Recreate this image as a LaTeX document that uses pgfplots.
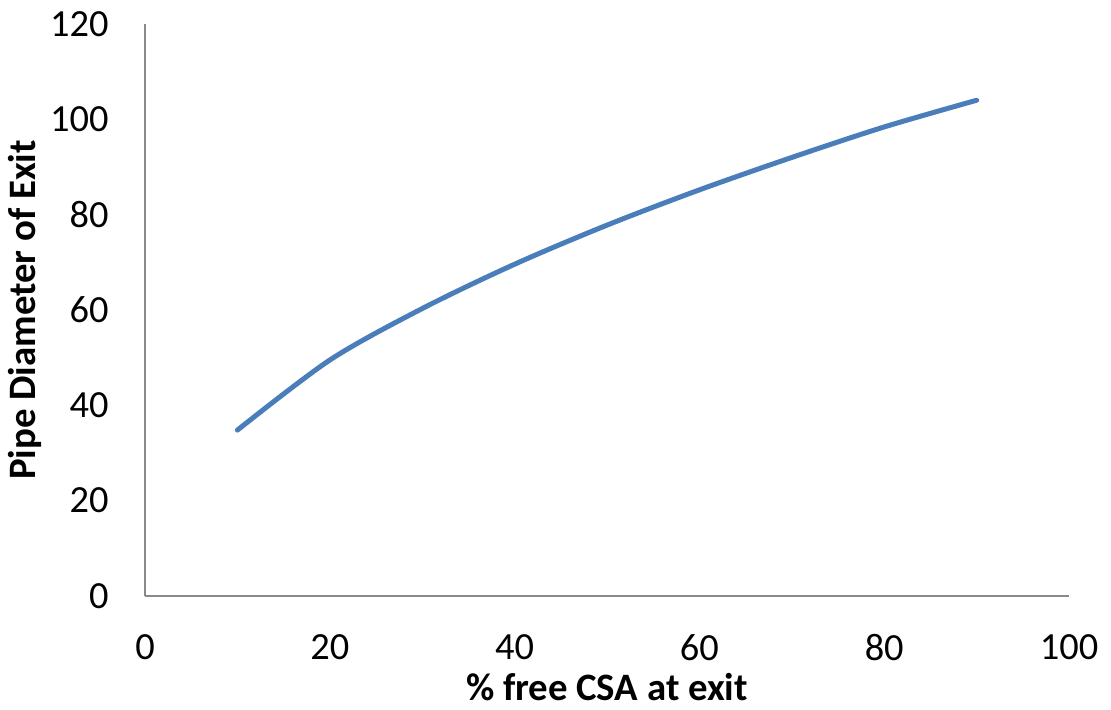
\documentclass[border=0pt]{standalone}
\usepackage{pgfplots}
\pgfplotsset{compat=1.18}
\usepackage{fontspec}
\setmainfont{Carlito}
\definecolor{linecol}{HTML}{4A7EBB}
\definecolor{axcol}{HTML}{898989}
\begin{document}
\begin{tikzpicture}
\path[use as bounding box] (-72.5pt,-57pt) rectangle (483pt,298pt);
\begin{axis}[
  at={(0,0)}, anchor=south west,
  scale only axis,
  width=462pt, height=286pt,
  xmin=0, xmax=100, ymin=0, ymax=120,
  xtick={0,20,...,100}, ytick={0,20,...,120},
  axis x line*=bottom, axis y line*=left,
  axis line style={draw=axcol, line width=0.6pt, -},
  major tick length=0pt,
  tick style={draw=none},
  /pgf/number format/assume math mode=true,
  tick label style={font=\fontsize{19.2}{22}\selectfont, inner sep=0pt},
  yticklabel style={anchor=east, xshift=-18pt},
  xticklabel style={anchor=north, yshift=-19pt},
  xlabel={\% free CSA at exit},
  ylabel={Pipe Diameter of Exit},
  label style={font=\bfseries\fontsize{19.4}{22}\selectfont},
  xlabel style={at={([yshift=-45.5pt]axis description cs:0.5,0)}, anchor=center},
  ylabel style={at={([xshift=-60pt]axis description cs:0,0.5)}, anchor=center},
  clip=false,
]
\addplot[linecol, line width=2.5pt, smooth, line cap=round] coordinates {
  (10,34.8) (20,49.5) (30,60.3) (40,69.6) (50,77.8) (60,85.2) (70,92.0) (80,98.4) (90,104.0)
};
\end{axis}
\end{tikzpicture}
\end{document}
